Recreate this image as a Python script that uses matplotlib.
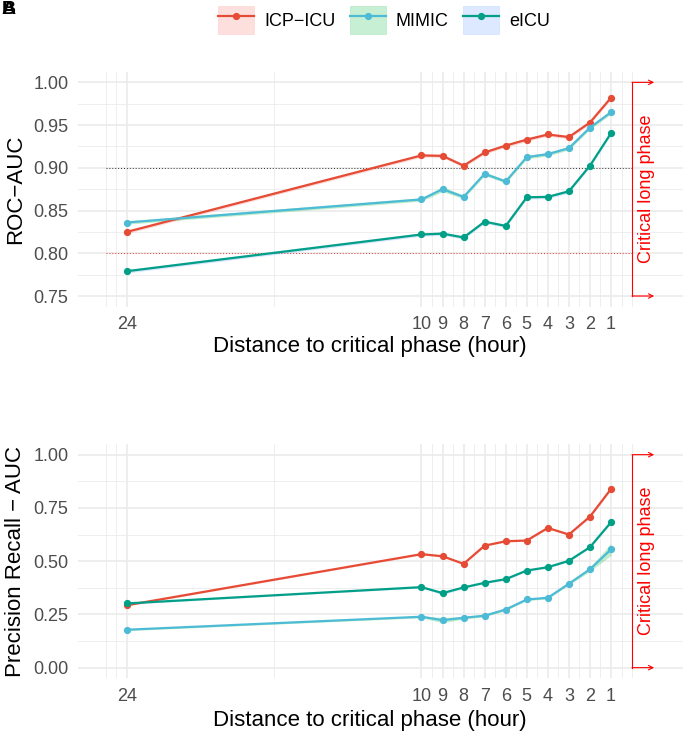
import matplotlib
matplotlib.use("Agg")
import matplotlib.pyplot as plt
from matplotlib.patches import Patch
from matplotlib.lines import Line2D

plt.rcParams['font.family'] = ['Liberation Sans', 'DejaVu Sans']

hours = [24, 10, 9, 8, 7, 6, 5, 4, 3, 2, 1]
tick_labels = ["24", "10", "9", "8", "7", "6", "5", "4", "3", "2", "1"]
cohorts = ["ICP−ICU", "MIMIC", "eICU"]

# ROC-AUC per cohort
roc_icp = [0.825, 0.9145, 0.914, 0.9025, 0.918, 0.926, 0.933, 0.939, 0.936, 0.953, 0.982]
roc_mimic = [0.836, 0.863, 0.875, 0.866, 0.893, 0.884, 0.9125, 0.916, 0.923, 0.947, 0.965]
roc_eicu = [0.779, 0.822, 0.823, 0.8185, 0.837, 0.832, 0.8655, 0.866, 0.8725, 0.9025, 0.9405]
roc_ci = [
    [0.002, 0.002, 0.002, 0.002, 0.002, 0.002, 0.002, 0.002, 0.002, 0.002, 0.002],
    [0.002, 0.002, 0.003, 0.002, 0.002, 0.002, 0.002, 0.002, 0.002, 0.002, 0.002],
    [0.002, 0.002, 0.002, 0.002, 0.002, 0.002, 0.002, 0.002, 0.002, 0.002, 0.002],
]

# Precision-recall AUC per cohort
pr_icp = [0.293, 0.533, 0.523, 0.4875, 0.573, 0.5935, 0.597, 0.656, 0.625, 0.709, 0.839]
pr_mimic = [0.178, 0.239, 0.223, 0.234, 0.244, 0.273, 0.32, 0.328, 0.394, 0.462, 0.555]
pr_eicu = [0.3015, 0.378, 0.35, 0.3765, 0.3985, 0.4155, 0.456, 0.4716, 0.5016, 0.5656, 0.6826]
pr_ci = [
    [0.004, 0.004, 0.004, 0.004, 0.004, 0.004, 0.004, 0.004, 0.004, 0.004, 0.006],
    [0.004, 0.005, 0.012, 0.006, 0.005, 0.005, 0.005, 0.005, 0.006, 0.010, 0.028],
    [0.004, 0.004, 0.008, 0.004, 0.004, 0.004, 0.004, 0.004, 0.004, 0.005, 0.006],
]

line_colors = ["#E64B35", "#4DBBD5", "#00A087"]
fill_colors = ["#F8766D", "#00BA38", "#619CFF"]

fig = plt.figure(figsize=(6.83, 7.36), dpi=100)
ax1 = fig.add_axes([0.1146, 0.5833, 0.8854, 0.3193])
ax2 = fig.add_axes([0.1146, 0.0784, 0.8854, 0.3183])

grid_col = "#EBEBEB"
minor_x = [25, 24.5, 17, 9.5, 8.5, 7.5, 6.5, 5.5, 4.5, 3.5, 2.5, 1.5, 0.5, 0]


def draw_panel(ax, series, cis, ylim, yticks, yminor, ylabel, label_y):
    ax.set_xlim(26.3, -2.42)
    pad = (ylim[1] - ylim[0]) * 0.05
    ax.set_ylim(ylim[0] - pad, ylim[1] + pad)
    for s in ax.spines.values():
        s.set_visible(False)
    for y in yminor:
        ax.axhline(y, color=grid_col, lw=0.6, zorder=0)
    for y in yticks:
        ax.axhline(y, color=grid_col, lw=1.2, zorder=0)
    for x in minor_x:
        ax.axvline(x, color=grid_col, lw=0.6, zorder=0)
    for x in hours:
        ax.axvline(x, color=grid_col, lw=1.2, zorder=0)

    for vals, ci, lc, fc in zip(series, cis, line_colors, fill_colors):
        lo = [v - c for v, c in zip(vals, ci)]
        hi = [v + c for v, c in zip(vals, ci)]
        ax.fill_between(hours, lo, hi, color=fc, alpha=0.25, lw=0, zorder=2)
        ax.plot(hours, vals, color=lc, lw=1.6, marker="o", ms=4.2, zorder=3)

    ax.set_xticks(hours)
    ax.set_xticklabels(tick_labels)
    ax.set_yticks(yticks)
    ax.set_yticklabels([f"{t:.2f}" for t in yticks])
    ax.tick_params(length=0, labelsize=13, labelcolor="#4D4D4D", pad=7)
    ax.set_xlabel("Distance to critical phase (hour)", fontsize=16, color="black")
    ax.xaxis.set_label_coords(0.4816, label_y)
    ax.xaxis.label.set_va("center")
    ax.set_ylabel(ylabel, fontsize=16, color="black")
    ax.yaxis.set_label_coords(-0.104, 0.5)
    ax.yaxis.label.set_va("center")

    # critical long phase bracket
    ax.plot([0, 0], [ylim[0], ylim[1]], color="red", lw=0.8, zorder=4)
    for y in (ylim[0], ylim[1]):
        ax.annotate("", xy=(-1.05, y), xytext=(0, y),
                    arrowprops=dict(arrowstyle="->", color="red", lw=0.8,
                                    shrinkA=0, shrinkB=0, mutation_scale=8))
    ax.text(-0.69, (ylim[0] + ylim[1]) / 2, "Critical long phase", rotation=90,
            color="red", fontsize=13, ha="center", va="center")


draw_panel(ax1, [roc_icp, roc_mimic, roc_eicu], roc_ci, (0.75, 1.0),
           [0.75, 0.80, 0.85, 0.90, 0.95, 1.00],
           [0.775, 0.825, 0.875, 0.925, 0.975], "ROC−AUC", -0.170)
ax1.plot([25, 0], [0.9, 0.9], color="#333333", lw=0.7, ls=(0, (1, 2)), zorder=1)
ax1.plot([25, 0], [0.8, 0.8], color="#F03030", lw=0.7, ls=(0, (1, 2)), zorder=1)

draw_panel(ax2, [pr_icp, pr_mimic, pr_eicu], pr_ci, (0.0, 1.0),
           [0.0, 0.25, 0.5, 0.75, 1.0],
           [0.125, 0.375, 0.625, 0.875], "Precision Recall − AUC", -0.180)

handles = []
for lc, fc in zip(line_colors, fill_colors):
    p = Patch(facecolor=fc, alpha=0.22, edgecolor=fc, lw=0.5)
    ln = Line2D([], [], color=lc, lw=1.6, marker="o", ms=4.2)
    handles.append((p, ln))
fig.legend(handles, cohorts, ncol=3, loc="center", bbox_to_anchor=(384 / 683, 1 - 20 / 736),
           frameon=False, fontsize=13, handlelength=2.0, handleheight=2.0,
           handletextpad=0.55, columnspacing=0.8, borderpad=0)

fig.text(0.002, 0.998, "A", fontsize=14, fontweight="bold", ha="left", va="top")
fig.text(0.002, 0.998, "B", fontsize=14, fontweight="bold", ha="left", va="top")

fig.savefig("out.png", dpi=100)
